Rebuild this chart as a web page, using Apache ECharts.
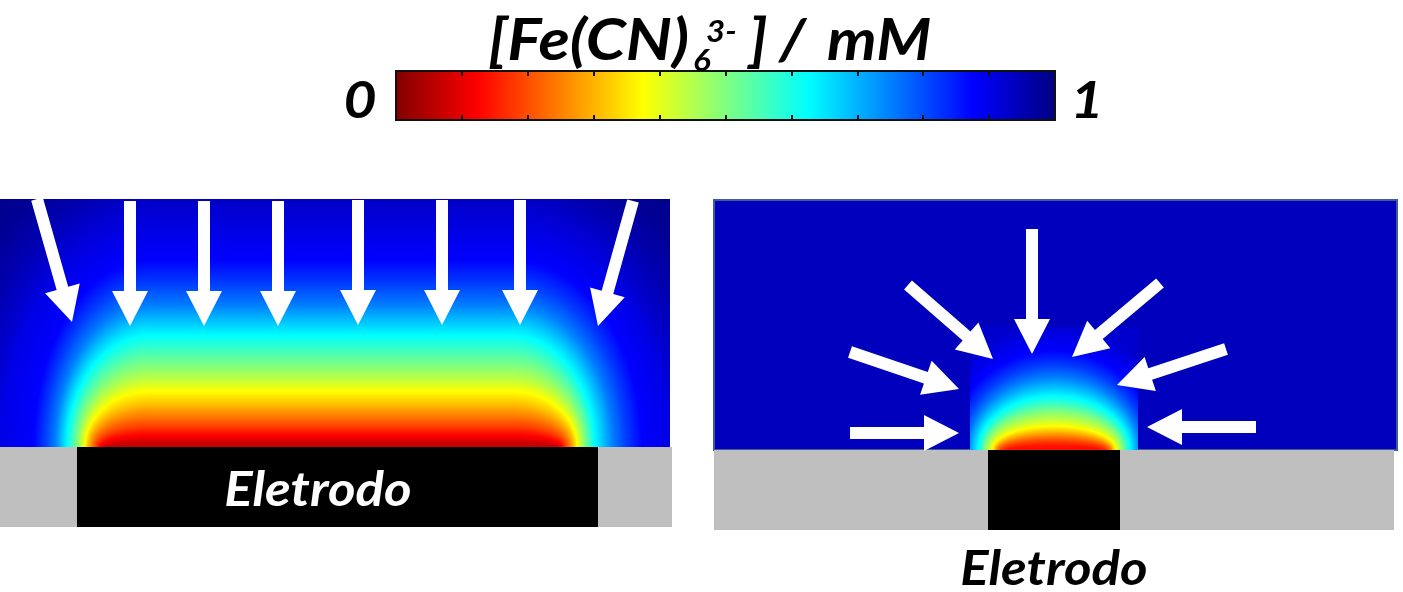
<!DOCTYPE html>
<html>
<head>
<meta charset="utf-8">
<script src="https://cdn.jsdelivr.net/npm/echarts@6/dist/echarts.min.js"></script>
<style>
  html, body { margin: 0; padding: 0; background: #ffffff; }
  #chart { width: 1403px; height: 592px; }
</style>
</head>
<body>
<div id="chart"></div>
<script>
// ---- colour map: reversed jet, 0 mM dark red -> 1 mM dark blue ----
const cmapPos   = [0, 0.125, 0.375, 0.625, 0.875, 1];
const cmapColor = ['#800000', '#ff0000', '#ffff00', '#00ffff', '#0000ff', '#000080'];

// ---- colour bar scale (mM) ----
const barMin = 0;
const barMax = 1;
const barStep = 0.1;
const barEndLabels = ['0', '1'];

// ---- band (macro) electrode: iso-concentration contours above the surface ----
// level (mM), height above the electrode centre, corner spread to the left / right
const bandLevel   = [1.0, 0.98, 0.95, 0.92, 0.9, 0.875, 0.8125, 0.75, 0.6875, 0.625, 0.5625, 0.5, 0.4375, 0.375, 0.3125, 0.25, 0.1875, 0.125, 0.07];
const bandHeight  = [400, 300, 262, 238, 215, 188, 163, 142, 127, 112, 97, 82, 68, 56, 43, 32, 21, 12, 4];
const bandSpreadL = [300, 215, 182, 158, 150, 117, 105, 95, 89, 83, 78, 73, 69, 65, 62, 58, 54, 50, 45];
const bandSpreadR = [300, 222, 189, 165, 157, 131, 114, 101, 92, 83, 78, 73, 69, 65, 62, 58, 54, 50, 45];
const bandCorner  = [150, 512];          // x of the left / right corner centres
const bandField   = [0, 670, 0, 248];    // x0, x1, y0, y1 of the simulated domain
const bandSubstrate = [0, 672, -80, 0];  // insulating support
const bandElectrode = [77, 598];         // electrode extent
const bandLabelAt = [318, -44];
// diffusion arrows: tail x, tail y, tip x, tip y
const bandArrows = [
  [37, 248, 72, 125],
  [130, 246, 130, 121],
  [204, 246, 204, 121],
  [278, 246, 278, 121],
  [358, 247, 358, 122],
  [442, 247, 442, 122],
  [520, 247, 520, 122],
  [633, 246, 598, 121]
];

// ---- micro electrode: hemispherical contours ----
const microLevel  = [0.96, 0.92, 0.875, 0.8125, 0.75, 0.6875, 0.625, 0.5625, 0.5, 0.4375, 0.375, 0.3125, 0.25, 0.1875, 0.14];
const microHeight = [400, 125, 100, 85, 73, 63, 54, 46, 39, 31, 24, 19, 14, 9, 4];
const microSpread = [400, 125, 105, 93, 86, 81, 76, 72, 69, 65, 62, 59, 57, 53, 46];
const microCentre = 340;
const microBulkLevel = 0.94;              // bulk solution outside the simulated box
const microPanel  = [0, 683, 0, 250];
const microBox    = [256, 424, 0, 123];
const microSubstrate = [0, 680, -80, 0];
const microElectrode = [274, 406];
const microLabelAt = [340, -120];
const microArrows = [
  [318, 221, 318, 96],
  [194, 165, 279, 91],
  [136, 98, 245, 61],
  [136, 17, 245, 17],
  [446, 167, 358, 93],
  [512, 101, 403, 65],
  [542, 23, 433, 23]
];

const electrodeLabel = 'Eletrodo';

// ---------------------------------------------------------------------------
function hexRgb(h) {
  return [parseInt(h.slice(1, 3), 16), parseInt(h.slice(3, 5), 16), parseInt(h.slice(5, 7), 16)];
}
function jet(c) {
  c = Math.max(0, Math.min(1, c));
  let i = 0;
  while (i < cmapPos.length - 2 && c > cmapPos[i + 1]) i++;
  const t = (c - cmapPos[i]) / (cmapPos[i + 1] - cmapPos[i]);
  const a = hexRgb(cmapColor[i]), b = hexRgb(cmapColor[i + 1]);
  return 'rgb(' + [0, 1, 2].map(k => Math.round(a[k] + (b[k] - a[k]) * t)).join(',') + ')';
}

// outline of one contour: elliptic corners joined by a flat top
function domePoints(api, cxL, cxR, ry, rl, rr) {
  const n = 40;
  const pts = [api.coord([cxL - rl, -10])];
  for (let i = 0; i <= n; i++) {
    const t = i / n * Math.PI / 2;
    pts.push(api.coord([cxL - rl * Math.cos(t), ry * Math.sin(t)]));
  }
  for (let i = n; i >= 0; i--) {
    const t = i / n * Math.PI / 2;
    pts.push(api.coord([cxR + rr * Math.cos(t), ry * Math.sin(t)]));
  }
  pts.push(api.coord([cxR + rr, -10]));
  return pts;
}

// one contour band, shaded from its own level to the next inner level
const SUBSTEPS = 14;
function bandGroup(api, cxL, cxR, outer, inner) {
  const children = [];
  const steps = inner ? SUBSTEPS : 1;
  for (let s = 0; s < steps; s++) {
    const f = s / steps;
    const v = outer.map((o, k) => inner ? o + (inner[k] - o) * f : o);
    children.push({
      type: 'polygon',
      shape: { points: domePoints(api, cxL, cxR, v[1], v[2], v[3]) },
      style: { fill: jet(v[0]) }
    });
  }
  return { type: 'group', children: children };
}

function arrowPoints(api, a) {
  const p1 = api.coord([a[0], a[1]]), p2 = api.coord([a[2], a[3]]);
  const dx = p2[0] - p1[0], dy = p2[1] - p1[1], len = Math.hypot(dx, dy);
  const ux = dx / len, uy = dy / len, nx = -uy, ny = ux;
  const sw = 6, hl = 35, hw = 18;
  const bx = p2[0] - ux * hl, by = p2[1] - uy * hl;
  return [
    [p1[0] + nx * sw, p1[1] + ny * sw],
    [bx + nx * sw, by + ny * sw],
    [bx + nx * hw, by + ny * hw],
    [p2[0], p2[1]],
    [bx - nx * hw, by - ny * hw],
    [bx - nx * sw, by - ny * sw],
    [p1[0] - nx * sw, p1[1] - ny * sw]
  ];
}

function rectFrom(api, x0, x1, y0, y1) {
  const a = api.coord([x0, y1]), b = api.coord([x1, y0]);
  return { x: a[0], y: a[1], width: b[0] - a[0], height: b[1] - a[1] };
}

const FONT = 'Lato, "Open Sans", sans-serif';
function labelStyle(text, size, fill, align) {
  return {
    text: text, fill: fill, fontFamily: FONT, fontSize: size,
    fontStyle: 'italic', fontWeight: 'bold',
    align: align || 'left', verticalAlign: 'middle',
    textAlign: align || 'left', textVerticalAlign: 'middle'
  };
}

const hidden = { show: false };
const barStops = cmapPos.map((p, i) => ({ offset: p, color: cmapColor[i] }));

function levelRows(level, height, spreadL, spreadR) {
  return level.map((c, i) => {
    const row = [c, height[i], spreadL[i], spreadR[i]];
    const j = i + 1;
    if (j < level.length) row.push(level[j], height[j], spreadL[j], spreadR[j]);
    return row;
  });
}

const option = {
  animation: false,
  backgroundColor: '#ffffff',
  grid: [
    { left: 396, top: 71, width: 659, height: 49, show: true,
      backgroundColor: new echarts.graphic.LinearGradient(0, 0, 1, 0, barStops),
      borderColor: '#111111', borderWidth: 2 },
    { left: 0, top: 199, width: 672, height: 328 },
    { left: 714, top: 199, width: 683, height: 393 },
    { left: 0, top: 199, width: 670, height: 248 },
    { left: 970, top: 327, width: 168, height: 123 }
  ],
  xAxis: [
    { gridIndex: 0, type: 'value', min: barMin, max: barMax, interval: barStep, position: 'bottom',
      axisLine: hidden, axisLabel: hidden, splitLine: hidden,
      axisTick: { inside: true, length: 5, lineStyle: { color: '#111111', width: 2 } } },
    { gridIndex: 0, type: 'value', min: barMin, max: barMax, interval: barStep, position: 'top',
      axisLine: hidden, axisLabel: hidden, splitLine: hidden,
      axisTick: { inside: true, length: 5, lineStyle: { color: '#111111', width: 2 } } },
    { gridIndex: 1, type: 'value', min: 0, max: 672, show: false },
    { gridIndex: 2, type: 'value', min: 0, max: 683, show: false },
    { gridIndex: 3, type: 'value', min: bandField[0], max: bandField[1], show: false },
    { gridIndex: 4, type: 'value', min: microBox[0], max: microBox[1], show: false }
  ],
  yAxis: [
    { gridIndex: 0, type: 'value', min: 0, max: 1, show: false },
    { gridIndex: 1, type: 'value', min: -80, max: 248, show: false },
    { gridIndex: 2, type: 'value', min: -142, max: 251, show: false },
    { gridIndex: 3, type: 'value', min: bandField[2], max: bandField[3], show: false },
    { gridIndex: 4, type: 'value', min: microBox[2], max: microBox[3], show: false }
  ],
  graphic: [
    { type: 'text', x: 488, y: 42, scaleX: 1.13, style: labelStyle('[Fe(CN)', 57, '#000') },
    { type: 'text', x: 693, y: 61, scaleX: 1.1, style: labelStyle('6', 30, '#000') },
    { type: 'text', x: 706, y: 32, scaleX: 1.1, style: labelStyle('3-', 30, '#000') },
    { type: 'text', x: 749, y: 42, scaleX: 1.1, style: labelStyle(']', 57, '#000') },
    { type: 'text', x: 779, y: 42, scaleX: 1.1, style: labelStyle('/', 57, '#000') },
    { type: 'text', x: 827, y: 42, scaleX: 1.1, style: labelStyle('mM', 57, '#000') },
    { type: 'text', x: 360, y: 101, scaleX: 1.1, style: labelStyle(barEndLabels[0], 52, '#000', 'center') },
    { type: 'text', x: 1087, y: 101, scaleX: 1.1, style: labelStyle(barEndLabels[1], 52, '#000', 'center') }
  ],
  series: [
    // band electrode concentration field
    {
      type: 'custom', xAxisIndex: 4, yAxisIndex: 3, clip: true, silent: true, z: 2,
      data: levelRows(bandLevel, bandHeight, bandSpreadL, bandSpreadR),
      renderItem: function (params, api) {
        const outer = [api.value(0), api.value(1), api.value(2), api.value(3)];
        const hasInner = params.dataIndex < bandLevel.length - 1;
        const inner = hasInner ? [api.value(4), api.value(5), api.value(6), api.value(7)] : null;
        return bandGroup(api, bandCorner[0], bandCorner[1], outer, inner);
      }
    },
    // band electrode support and electrode
    {
      type: 'custom', xAxisIndex: 2, yAxisIndex: 1, silent: true, z: 3,
      data: [[bandElectrode[0], bandElectrode[1]]],
      renderItem: function (params, api) {
        const e0 = api.value(0), e1 = api.value(1);
        const lab = api.coord(bandLabelAt);
        return {
          type: 'group', children: [
            { type: 'rect', shape: rectFrom(api, bandSubstrate[0], bandSubstrate[1], bandSubstrate[2], bandSubstrate[3]), style: { fill: '#bfbfbf' } },
            { type: 'rect', shape: rectFrom(api, e0, e1, bandSubstrate[2], bandSubstrate[3]), style: { fill: '#000000' } },
            { type: 'text', x: lab[0], y: lab[1], scaleX: 1.1, style: labelStyle(electrodeLabel, 48, '#ffffff', 'center') }
          ]
        };
      }
    },
    // band electrode flux arrows
    {
      type: 'custom', xAxisIndex: 2, yAxisIndex: 1, silent: true, z: 4,
      data: bandArrows,
      renderItem: function (params, api) {
        const a = [api.value(0), api.value(1), api.value(2), api.value(3)];
        return { type: 'polygon', shape: { points: arrowPoints(api, a) }, style: { fill: '#ffffff' } };
      }
    },
    // micro electrode: bulk solution
    {
      type: 'custom', xAxisIndex: 3, yAxisIndex: 2, silent: true, z: 2,
      data: [[microBulkLevel]],
      renderItem: function (params, api) {
        return {
          type: 'rect', shape: rectFrom(api, microPanel[0], microPanel[1], microPanel[2], microPanel[3]),
          style: { fill: jet(api.value(0)), stroke: '#3f5e98', lineWidth: 2 }
        };
      }
    },
    // micro electrode concentration field
    {
      type: 'custom', xAxisIndex: 5, yAxisIndex: 4, clip: true, silent: true, z: 2,
      data: levelRows(microLevel, microHeight, microSpread, microSpread),
      renderItem: function (params, api) {
        const outer = [api.value(0), api.value(1), api.value(2), api.value(3)];
        const hasInner = params.dataIndex < microLevel.length - 1;
        const inner = hasInner ? [api.value(4), api.value(5), api.value(6), api.value(7)] : null;
        return bandGroup(api, microCentre, microCentre, outer, inner);
      }
    },
    // micro electrode support and electrode
    {
      type: 'custom', xAxisIndex: 3, yAxisIndex: 2, silent: true, z: 3,
      data: [[microElectrode[0], microElectrode[1]]],
      renderItem: function (params, api) {
        const e0 = api.value(0), e1 = api.value(1);
        const lab = api.coord(microLabelAt);
        return {
          type: 'group', children: [
            { type: 'rect', shape: rectFrom(api, microSubstrate[0], microSubstrate[1], microSubstrate[2], microSubstrate[3]), style: { fill: '#bfbfbf' } },
            { type: 'rect', shape: rectFrom(api, e0, e1, microSubstrate[2], microSubstrate[3]), style: { fill: '#000000' } },
            { type: 'text', x: lab[0], y: lab[1], scaleX: 1.1, style: labelStyle(electrodeLabel, 48, '#000000', 'center') }
          ]
        };
      }
    },
    // micro electrode flux arrows
    {
      type: 'custom', xAxisIndex: 3, yAxisIndex: 2, silent: true, z: 4,
      data: microArrows,
      renderItem: function (params, api) {
        const a = [api.value(0), api.value(1), api.value(2), api.value(3)];
        return { type: 'polygon', shape: { points: arrowPoints(api, a) }, style: { fill: '#ffffff' } };
      }
    }
  ]
};

const chart = echarts.init(document.getElementById('chart'), null, { renderer: 'canvas' });
chart.setOption(option);
</script>
</body>
</html>
